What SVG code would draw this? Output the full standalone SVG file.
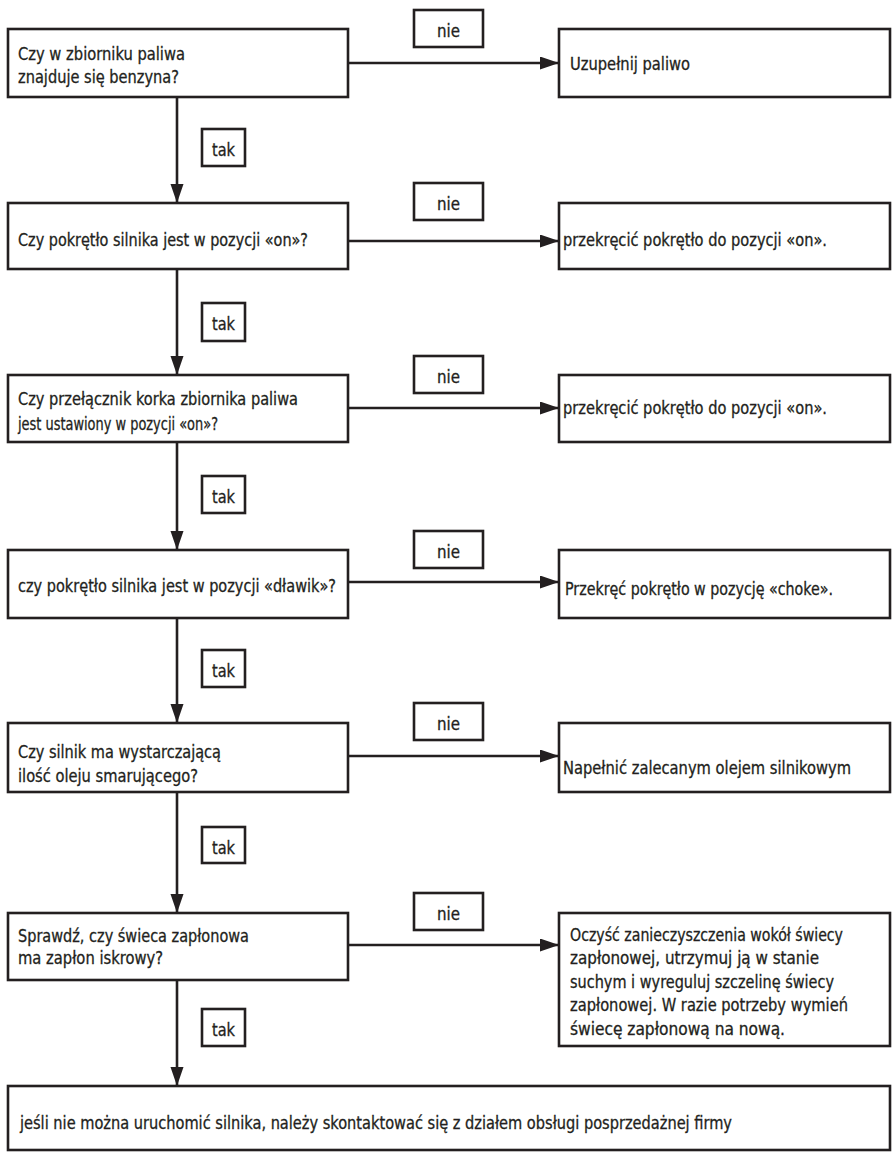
<svg xmlns="http://www.w3.org/2000/svg" width="892" height="1156" viewBox="0 0 892 1156">
<style>
.box{fill:#fff;stroke:#231f20;stroke-width:2.6}
.lbl{fill:#fff;stroke:#231f20;stroke-width:2.6}
.ln{fill:none;stroke:#231f20;stroke-width:2.6}
text{font-family:"Liberation Sans Narrow","DejaVu Sans Condensed","Liberation Sans",sans-serif;font-size:18px;fill:#231f20;stroke:#231f20;stroke-width:0.3}
.c{text-anchor:middle}
</style>
<defs>
<marker id="ah" markerUnits="userSpaceOnUse" markerWidth="20" markerHeight="14" refX="19" refY="6.5" orient="auto">
<path d="M0,0 L19,6.5 L0,13 z" fill="#231f20"/>
</marker>
</defs>
<rect width="892" height="1156" fill="#fff"/>
<g id="connectors">
<line class="ln" x1="177" y1="97" x2="177" y2="203" marker-end="url(#ah)"/>
<line class="ln" x1="177" y1="269" x2="177" y2="375" marker-end="url(#ah)"/>
<line class="ln" x1="177" y1="442" x2="177" y2="550" marker-end="url(#ah)"/>
<line class="ln" x1="177" y1="618" x2="177" y2="723" marker-end="url(#ah)"/>
<line class="ln" x1="177" y1="792" x2="177" y2="913" marker-end="url(#ah)"/>
<line class="ln" x1="177" y1="980" x2="177" y2="1086" marker-end="url(#ah)"/>
<line class="ln" x1="348" y1="63" x2="559" y2="63" marker-end="url(#ah)"/>
<line class="ln" x1="348" y1="241" x2="559" y2="241" marker-end="url(#ah)"/>
<line class="ln" x1="348" y1="408" x2="559" y2="408" marker-end="url(#ah)"/>
<line class="ln" x1="348" y1="582" x2="559" y2="582" marker-end="url(#ah)"/>
<line class="ln" x1="348" y1="756" x2="559" y2="756" marker-end="url(#ah)"/>
<line class="ln" x1="348" y1="945" x2="559" y2="945" marker-end="url(#ah)"/>
</g>
<g id="labels">
<g id="nie1"><rect class="lbl" x="414" y="10" width="69" height="37"/><text class="c" x="448.5" y="37" textLength="23" lengthAdjust="spacingAndGlyphs">nie</text></g>
<g id="nie2"><rect class="lbl" x="414" y="183" width="69" height="37"/><text class="c" x="448.5" y="210" textLength="23" lengthAdjust="spacingAndGlyphs">nie</text></g>
<g id="nie3"><rect class="lbl" x="414" y="356" width="69" height="37"/><text class="c" x="448.5" y="383" textLength="23" lengthAdjust="spacingAndGlyphs">nie</text></g>
<g id="nie4"><rect class="lbl" x="414" y="531" width="69" height="37"/><text class="c" x="448.5" y="558" textLength="23" lengthAdjust="spacingAndGlyphs">nie</text></g>
<g id="nie5"><rect class="lbl" x="414" y="703" width="69" height="37"/><text class="c" x="448.5" y="730" textLength="23" lengthAdjust="spacingAndGlyphs">nie</text></g>
<g id="nie6"><rect class="lbl" x="414" y="893" width="69" height="37"/><text class="c" x="448.5" y="920" textLength="23" lengthAdjust="spacingAndGlyphs">nie</text></g>
<g id="tak1"><rect class="lbl" x="202" y="129" width="43" height="37"/><text class="c" x="223.5" y="156" textLength="23" lengthAdjust="spacingAndGlyphs">tak</text></g>
<g id="tak2"><rect class="lbl" x="202" y="303" width="43" height="38"/><text class="c" x="223.5" y="330" textLength="23" lengthAdjust="spacingAndGlyphs">tak</text></g>
<g id="tak3"><rect class="lbl" x="202" y="476" width="43" height="37"/><text class="c" x="223.5" y="503" textLength="23" lengthAdjust="spacingAndGlyphs">tak</text></g>
<g id="tak4"><rect class="lbl" x="202" y="650" width="43" height="37"/><text class="c" x="223.5" y="677" textLength="23" lengthAdjust="spacingAndGlyphs">tak</text></g>
<g id="tak5"><rect class="lbl" x="202" y="827" width="43" height="36"/><text class="c" x="223.5" y="854" textLength="23" lengthAdjust="spacingAndGlyphs">tak</text></g>
<g id="tak6"><rect class="lbl" x="202" y="1009" width="43" height="37"/><text class="c" x="223.5" y="1036" textLength="23" lengthAdjust="spacingAndGlyphs">tak</text></g>
</g>
<g id="q1"><rect class="box" x="8" y="29" width="340" height="68"/>
<text x="18" y="60" textLength="167" lengthAdjust="spacingAndGlyphs">Czy w zbiorniku paliwa</text>
<text x="18" y="83" textLength="161" lengthAdjust="spacingAndGlyphs">znajduje się benzyna?</text></g>
<g id="a1"><rect class="box" x="559" y="29" width="331" height="68"/>
<text x="570" y="70" textLength="120" lengthAdjust="spacingAndGlyphs">Uzupełnij paliwo</text></g>
<g id="q2"><rect class="box" x="8" y="203" width="340" height="66"/>
<text x="18" y="246" textLength="290" lengthAdjust="spacingAndGlyphs">Czy pokrętło silnika jest w pozycji «on»?</text></g>
<g id="a2"><rect class="box" x="559" y="203" width="331" height="66"/>
<text x="563" y="246" textLength="264" lengthAdjust="spacingAndGlyphs">przekręcić pokrętło do pozycji «on».</text></g>
<g id="q3"><rect class="box" x="8" y="375" width="340" height="67"/>
<text x="18" y="405" textLength="280" lengthAdjust="spacingAndGlyphs">Czy przełącznik korka zbiornika paliwa</text>
<text x="18" y="430" textLength="200" lengthAdjust="spacingAndGlyphs">jest ustawiony w pozycji «on»?</text></g>
<g id="a3"><rect class="box" x="559" y="375" width="331" height="67"/>
<text x="563" y="414" textLength="264" lengthAdjust="spacingAndGlyphs">przekręcić pokrętło do pozycji «on».</text></g>
<g id="q4"><rect class="box" x="8" y="550" width="340" height="68"/>
<text x="18" y="592" textLength="318" lengthAdjust="spacingAndGlyphs">czy pokrętło silnika jest w pozycji «dławik»?</text></g>
<g id="a4"><rect class="box" x="559" y="550" width="331" height="68"/>
<text x="565" y="595" textLength="268" lengthAdjust="spacingAndGlyphs">Przekręć pokrętło w pozycję «choke».</text></g>
<g id="q5"><rect class="box" x="8" y="723" width="340" height="69"/>
<text x="18" y="758" textLength="203" lengthAdjust="spacingAndGlyphs">Czy silnik ma wystarczającą</text>
<text x="18" y="782" textLength="180" lengthAdjust="spacingAndGlyphs">ilość oleju smarującego?</text></g>
<g id="a5"><rect class="box" x="559" y="723" width="331" height="69"/>
<text x="563" y="774" textLength="288" lengthAdjust="spacingAndGlyphs">Napełnić zalecanym olejem silnikowym</text></g>
<g id="q6"><rect class="box" x="8" y="913" width="340" height="67"/>
<text x="18" y="942" textLength="231" lengthAdjust="spacingAndGlyphs">Sprawdź, czy świeca zapłonowa</text>
<text x="18" y="964" textLength="145" lengthAdjust="spacingAndGlyphs">ma zapłon iskrowy?</text></g>
<g id="a6"><rect class="box" x="559" y="913" width="331" height="133"/>
<text x="570" y="941" textLength="273" lengthAdjust="spacingAndGlyphs">Oczyść zanieczyszczenia wokół świecy</text>
<text x="570" y="964" textLength="249" lengthAdjust="spacingAndGlyphs">zapłonowej, utrzymuj ją w stanie</text>
<text x="570" y="988" textLength="264" lengthAdjust="spacingAndGlyphs">suchym i wyreguluj szczelinę świecy</text>
<text x="570" y="1011" textLength="278" lengthAdjust="spacingAndGlyphs">zapłonowej. W razie potrzeby wymień</text>
<text x="570" y="1035" textLength="215" lengthAdjust="spacingAndGlyphs">świecę zapłonową na nową.</text></g>
<g id="end"><rect class="box" x="8" y="1086" width="882" height="64"/>
<text x="20" y="1129" textLength="712" lengthAdjust="spacingAndGlyphs">jeśli nie można uruchomić silnika, należy skontaktować się z działem obsługi posprzedażnej firmy</text></g>
</svg>
